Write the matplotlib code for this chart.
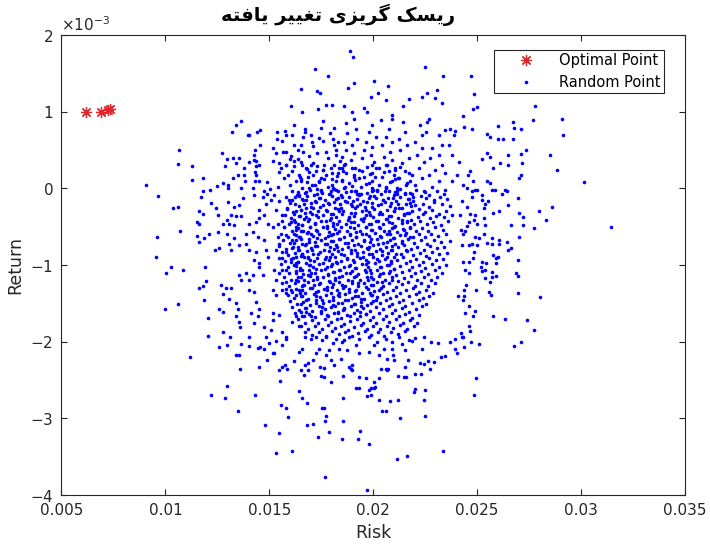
# -*- coding: utf-8 -*-
"""
Modified risk aversion: optimal portfolios vs. random portfolios (risk / return).
"""
import matplotlib.pyplot as plt
import numpy as np
from matplotlib.ticker import ScalarFormatter

plt.rcParams['font.family'] = ['DejaVu Sans']
plt.rcParams['axes.unicode_minus'] = False

# title: "ریسک گریزی تغییر یافته" written in presentation forms, visual order
# (matplotlib does no Arabic shaping by itself)
TITLE = ("\uFEEA\uFE98\uFED3\uFE8E\uFBFE \uFEAE\uFBFF\uFBFF\uFED0\uFE97 "
         "\uFBFC\uFEB0\uFBFE\uFEAE\uFB94 \uFB8F\uFEB4\uFBFE\uFEAD")

x_ticks = [0.005, 0.01, 0.015, 0.02, 0.025, 0.03, 0.035]
x_labels = ['0.005', '0.01', '0.015', '0.02', '0.025', '0.03', '0.035']
y_ticks = [-4, -3, -2, -1, 0, 1, 2]          # x 1e-3

# optimal points: risk, return (x 1e-3)
opt_risk = [0.00618, 0.00688, 0.00722, 0.00735]
opt_ret = [1.00, 1.00, 1.02, 1.03]

# random portfolios, (risk, return) both in units of 1e-5
rand_top = [
    (1719, 156), (1784, 147), (1650, 130), (1731, 127), (1745, 124), (1605, 108), (1657, 99),
    (1774, 109), (1800, 109), (1736, 103), (1364, 88), (1342, 82), (1320, 74), (1404, 70),
    (1398, 69), (1453, 76), (1439, 74), (1064, 50), (1062, 32), (1128, 29), (1128, 11),
    (1182, 13), (905, 4), (1179, -4), (1216, -2), (1246, 3), (1276, 7), (1302, 4), (1299, 1),
    (1273, 46), (1295, 38), (1324, 40), (1356, 40), (1338, 33), (1289, 29), (1324, 14),
    (1351, 17), (1378, 26), (1378, 18), (1381, 9), (1366, 1), (1401, 34), (1431, 50),
    (1428, 43), (1425, 37), (1436, 36), (1452, 30), (1436, 29), (1455, 57), (1431, 21),
    (1437, 17), (1429, 10), (1452, 9), (1422, 1), (1487, 8), (1503, -1), (1475, -4), (1487, -7),
    (1538, 74), (1538, 65), (1575, 75), (1582, 70), (1610, 70), (1617, 83), (1671, 77), (1674, 73),
    (1650, 57), (1664, 67), (1706, 60), (1708, 55), (1741, 66), (1749, 79), (1757, 88), (1812, 79),
    (1517, 52), (1531, 46), (1565, 48), (1579, 47), (1603, 42), (1637, 50), (1619, 36),
    (1517, 36), (1547, 33), (1555, 27), (1579, 30), (1600, 38), (1619, 29), (1640, 38), (1653, 34),
    (1547, 21), (1571, 13), (1611, 22), (1627, 9), (1644, 17), (1676, 26), (1684, 15), (1708, 33),
    (1724, 22), (1740, 9), (1764, 30), (1772, 17), (1796, 26), (1812, 57), (1820, 43), (1820, 9),
    (1692, 0), (1749, -2), (1796, -4), (1804, 65), (1772, 48),
    (1700, 70), (1760, 62), (1790, 72), (1830, 60), (1820, 50), (1840, 36), (1780, 40), (1730, 46),
    (1690, 42), (1660, 47), (1700, 30), (1760, 24), (1800, 12), (1830, 20), (1850, 26), (1680, 8),
    (1720, 4), (1780, 2), (1820, -2), (1650, 12), (1600, 5), (1580, 30), (1620, 56), (1560, 62),
    (1590, 17), (1640, -5), (1540, 2),
    (1888, 179), (1903, 171), (2250, 158), (2335, 146), (2470, 146), (2006, 140), (2073, 134),
    (1905, 137), (1878, 131), (2022, 124), (1990, 119), (2062, 115), (2142, 108), (2171, 116),
    (2233, 119), (2261, 124), (2305, 128), (2296, 118), (2331, 111), (2484, 123), (2497, 106),
    (2479, 103), (2433, 95), (2778, 108), (2770, 89), (1858, 107), (1896, 100), (1955, 105),
    (1970, 100), (2036, 89), (2092, 96), (2089, 91), (2142, 86), (2223, 83), (2266, 90), (2257, 86),
    (2253, 73), (2346, 76), (2371, 77), (2394, 75), (2436, 80), (2473, 77), (2548, 71), (2564, 67),
    (2602, 81), (2600, 65), (2622, 65), (2670, 86), (2678, 79), (2710, 78), (2670, 64), (2734, 50),
    (2710, 45), (2716, 33), (2546, 46), (2521, 38), (2564, 41), (2611, 33), (2574, 26), (2649, 44),
    (2649, 31), (2548, 10), (2564, 7), (2572, -2), (2636, -2), (2700, 13), (2709, 18), (2466, 22),
    (2458, 17), (2482, 10), (2490, -2), (2450, 0), (2434, 4),
    (2387, 70), (2363, 57), (2379, 43), (2411, 35), (2403, 17), (2379, 9), (2315, 70), (2331, 57),
    (2283, 52), (2315, 43), (2275, 39), (2331, 30), (2299, 24), (2347, 20), (2267, 17), (2315, 9),
    (2283, 2), (2347, -2), (2235, 70), (2203, 61), (2235, 52), (2211, 43), (2243, 35), (2219, 26),
    (2187, 17), (2235, 13), (2203, 4), (2243, -4), (2155, 74), (2123, 65), (2163, 57), (2131, 50),
    (2171, 39), (2139, 33), (2107, 26), (2155, 22), (2123, 13), (2163, 7), (2115, 0), (2155, -7),
    (2075, 78), (2059, 67), (2091, 61), (2043, 57), (2083, 48), (2051, 41), (2091, 37), (2059, 30),
    (2027, 26), (2075, 22), (2043, 15), (2091, 9), (2059, 2), (2019, -2), (2075, -4), (1995, 83),
    (1979, 74), (2011, 67), (1963, 61), (1995, 54), (1955, 50), (1987, 43), (1947, 39), (2003, 35),
    (1971, 28), (1931, 24), (1995, 20), (1955, 15), (1979, 7), (1939, 2), (1995, -4), (1923, -7),
    (1907, 91), (1868, 85), (1915, 78), (1876, 72), (1923, 65), (1859, 61), (1899, 57), (1868, 50),
    (1907, 46), (1851, 41), (1891, 37), (1859, 30), (1899, 26), (1868, 20), (1907, 15), (1851, 11),
    (1883, 7), (1859, 0), (1891, -4),
    (2909, 90), (2912, 69), (2850, 43), (2885, 24), (3015, 8), (2862, -24), (2799, -30),
    (2833, -41), (3143, -51),
]

rand_left = [
    (964, -10), (1036, -26), (1060, -24), (1069, -56), (960, -64), (953, -89), (1026, -103),
    (1004, -110), (1086, -107), (996, -157), (1060, -151), (1189, -103), (1161, -130), (1183, -127),
    (1196, -121), (1188, -146), (1207, -169), (1204, -192), (1276, -188), (1311, -194), (1268, -126),
    (1292, -130), (1316, -130), (1276, -138), (1305, -144), (1260, -157), (1276, -161), (1340, -150),
    (1348, -157), (1340, -167), (1356, -174), (1359, -181), (1404, -194), (1353, -113), (1364, -119),
    (1388, -111), (1404, -120), (1420, -113), (1452, -102), (1468, -113), (1404, -133), (1428, -135),
    (1436, -148), (1452, -157), (1412, -163), (1444, -167), (1428, -175), (1476, -181), (1508, -185),
    (1484, -194), (1516, -163), (1547, -165), (1516, -172), (1579, -194), (1563, -187), (1611, -174),
    (1627, -167), (1651, -161), (1644, -180), (1667, -167), (1516, -133), (1532, -139), (1563, -133),
    (1579, -137), (1603, -133), (1627, -139), (1659, -133), (1524, -107), (1547, -111), (1579, -107),
    (1603, -96), (1627, -98), (1659, -107), (1684, -113), (1532, -120), (1579, -122), (1627, -120),
    (1667, -126),
    (1164, -29), (1180, -33), (1151, -44), (1164, -47), (1151, -62), (1161, -70), (1188, -65),
    (1172, -11), (1220, -19), (1244, -26), (1252, -35), (1276, -46), (1295, -41), (1212, -59),
    (1252, -57), (1295, -59), (1241, -80), (1260, -78), (1308, -72), (1316, -80), (1332, -65),
    (1356, -74), (1300, -18), (1332, -24), (1316, -35), (1340, -36), (1364, -36), (1308, -47),
    (1332, -48), (1356, -22), (1372, -13), (1388, -59), (1420, -57), (1388, -72), (1404, -80),
    (1436, -44), (1404, -46), (1428, -9), (1468, -11), (1484, -20), (1452, -28), (1476, -35),
    (1452, -39), (1492, -46), (1516, -50), (1444, -63), (1476, -67), (1436, -83), (1428, -94),
    (1452, -98), (1484, -80), (1492, -89), (1532, -80), (1547, -72), (1579, -83), (1563, -91),
    (1508, -15), (1524, -9), (1547, -17), (1579, -11), (1611, -15), (1644, -9), (1676, -15),
    (1532, -28), (1563, -35), (1587, -26), (1619, -33), (1651, -28), (1676, -37), (1540, -46),
    (1571, -50), (1603, -44), (1627, -54), (1659, -48), (1684, -57), (1540, -63), (1579, -61),
    (1611, -67), (1644, -63), (1676, -72), (1611, -78), (1659, -85), (1627, -89), (1684, -91),
    (1692, -100),
]

rand_right = [
    (2775, -52), (2698, -12), (2650, -22), (2603, -30), (2576, -32), (2700, -32), (2722, -37),
    (2662, -48), (2722, -48), (2700, -64), (2642, -70), (2649, -80), (2662, -78), (2607, -67),
    (2571, -65), (2571, -72), (2604, -73), (2696, -94), (2686, -111), (2698, -114), (2697, -137),
    (2804, -142), (2740, -172), (2772, -185), (2636, -171), (2577, -167), (2566, -139), (2555, -135),
    (2589, -114), (2571, -116), (2539, -117), (2560, -122), (2571, -109), (2539, -107), (2523, -108),
    (2518, -102), (2544, -97), (2523, -96), (2589, -97), (2591, -91), (2576, -87), (2598, -90),
    (2496, -132), (2478, -167), (2443, -163), (2491, -160), (2459, -154), (2467, -186), (2434, -194),
    (2423, -189), (2439, -141), (2434, -146), (2410, -141), (2447, -126), (2439, -132), (2478, -91),
    (2483, -83), (2459, -96), (2434, -96), (2443, -106), (2459, -111), (2427, -74), (2459, -74),
    (2475, -72), (2499, -74), (2507, -65), (2491, -63), (2531, -59), (2547, -71), (2423, -54),
    (2443, -55), (2451, -49), (2434, -59), (2467, -33), (2491, -35), (2483, -41), (2459, -44),
    (2499, -46), (2531, -39), (2539, -48), (2531, -26), (2539, -20), (2523, -15), (2552, -17),
    (2475, -4), (2499, -2), (2475, -11), (2427, -17), (2451, -24), (2419, -35), (2619, -7),
    (2642, -4), (2587, -2), (2523, -9), (2459, -180),
]

rand_bottom = [
    (1116, -220), (1220, -269), (1288, -274), (1294, -258), (1350, -290), (1433, -269), (1480, -309),
    (1547, -319), (1533, -345), (1609, -343), (1770, -377), (1970, -393), (1556, -283), (1579, -286),
    (1592, -298), (1551, -251), (1644, -264), (1655, -273), (1679, -280), (1681, -309), (1711, -308),
    (1734, -324), (1755, -286), (1763, -287), (1774, -297), (1768, -304), (1785, -318), (1853, -273),
    (1853, -304), (1851, -327), (1935, -316), (1928, -327), (1978, -334), (1971, -271), (1987, -269),
    (2003, -261), (2008, -259), (2030, -276), (2043, -291), (2061, -290), (1919, -260), (1931, -260),
    (1547, -237), (1563, -233), (1587, -236), (1576, -230), (1667, -244), (1684, -237), (1748, -245),
    (1763, -246), (1796, -252), (1855, -245), (1891, -235), (1899, -237), (1931, -246), (1963, -247),
    (1979, -263), (1987, -260), (2006, -252), (2027, -248), (2067, -237), (2036, -235), (2059, -235),
    (1651, -237), (1672, -231), (1743, -233), (1764, -234), (1796, -224), (1812, -230), (1844, -223),
    (1883, -233), (1899, -231), (1450, -233), (1489, -224), (1359, -236), (1340, -218), (1356, -217),
    (1295, -204), (1260, -207), (1364, -203), (1404, -206), (1444, -208), (1455, -207), (1476, -210),
    (1516, -215), (1524, -215), (1579, -196), (1532, -199), (1500, -202), (1563, -204), (1619, -225),
    (1644, -213), (1659, -209), (1684, -228), (1708, -224), (1724, -215), (1740, -209), (1772, -217),
    (1788, -211), (1804, -202), (1836, -209), (1851, -200), (1875, -211), (1915, -204), (1931, -215),
    (1979, -213), (2003, -204), (2027, -217), (2051, -209), (2067, -222), (1672, -194), (1700, -196),
    (1724, -194), (1753, -198), (1772, -194), (1820, -196), (1860, -198), (1883, -194), (1931, -197),
    (1979, -194), (2019, -200), (2059, -196),
    (2709, -200), (2678, -205), (2507, -203), (2470, -201), (2492, -247), (2483, -270), (2335, -343),
    (2160, -349), (2112, -353), (2248, -297), (2128, -300), (2245, -276), (2117, -276), (2083, -278),
    (2251, -263), (2203, -262), (2198, -265), (2118, -245), (2146, -246), (2158, -246), (2200, -242),
    (2230, -242), (2272, -235), (2291, -226), (2264, -225), (2224, -228), (2245, -229), (2155, -233),
    (2155, -211), (2167, -224), (2235, -209), (2326, -220), (2347, -219), (2394, -209), (2403, -215),
    (2439, -207), (2368, -201), (2276, -200), (2312, -202), (2187, -199), (2136, -203), (2088, -201),
    (2096, -217), (2101, -224), (2088, -209), (2072, -235), (2427, -194), (2394, -196), (2243, -194),
    (2203, -195), (2171, -198), (2123, -194),
]

rand_core = [
    (1608, -3), (1633, -9), (1671, -6), (1694, -2), (1731, -8), (1749, -4), (1788, -7), (1812, -1),
    (1846, -9), (1871, -5), (1915, -3), (1932, -8), (1970, -6), (1997, -2), (2036, -7), (2055, -4),
    (2098, -9), (2113, -3), (2152, -6), (2188, -8), (2207, -2), (2249, -5), (2266, -9), (2308, -4),
    (2341, -7),
    (1594, -15), (1622, -11), (1658, -14), (1679, -10), (1718, -16), (1741, -12), (1769, -15),
    (1803, -10), (1829, -13), (1862, -17), (1884, -11), (1923, -14), (1951, -16), (1982, -10),
    (2011, -13), (2049, -15), (2071, -12), (2109, -17), (2131, -11), (2170, -14), (2193, -16),
    (2229, -10), (2254, -13), (2291, -15), (2322, -11), (2357, -14),
    (1601, -19), (1641, -23), (1665, -20), (1699, -24), (1726, -18), (1757, -22), (1781, -19),
    (1817, -25), (1840, -21), (1876, -18), (1900, -23), (1937, -20), (1959, -24), (1996, -19),
    (2022, -22), (2058, -18), (2082, -23), (2118, -21), (2139, -25), (2178, -19), (2201, -22),
    (2238, -20), (2268, -24), (2293, -18), (2330, -21), (2370, -23),
    (1583, -27), (1615, -31), (1651, -28), (1674, -32), (1711, -26), (1735, -30), (1772, -28),
    (1795, -33), (1831, -27), (1855, -30), (1891, -32), (1914, -26), (1946, -29), (1979, -31),
    (2006, -27), (2041, -33), (2067, -28), (2101, -30), (2124, -26), (2162, -32), (2186, -29),
    (2222, -27), (2248, -31), (2284, -28), (2315, -33), (2349, -30),
    (1577, -35), (1606, -39), (1644, -36), (1667, -40), (1703, -34), (1733, -38), (1760, -35),
    (1792, -41), (1822, -37), (1849, -34), (1882, -39), (1905, -36), (1941, -40), (1966, -35),
    (2000, -38), (2029, -34), (2063, -40), (2087, -36), (2121, -39), (2148, -35), (2180, -41),
    (2213, -37), (2240, -34), (2273, -39), (2301, -36), (2339, -38), (2378, -35),
    (1562, -43), (1597, -47), (1625, -44), (1659, -48), (1684, -42), (1719, -46), (1747, -43),
    (1777, -49), (1808, -45), (1836, -42), (1868, -47), (1893, -44), (1929, -48), (1953, -43),
    (1988, -46), (2015, -42), (2047, -47), (2076, -44), (2105, -49), (2136, -45), (2164, -42),
    (2198, -47), (2227, -43), (2258, -46), (2289, -44), (2324, -48), (2362, -42),
    (1571, -51), (1609, -55), (1636, -52), (1663, -56), (1698, -50), (1725, -54), (1756, -51),
    (1786, -57), (1815, -53), (1844, -50), (1873, -55), (1907, -52), (1934, -56), (1963, -51),
    (1994, -54), (2026, -50), (2054, -55), (2089, -52), (2116, -57), (2145, -53), (2177, -50),
    (2205, -55), (2236, -52), (2264, -56), (2298, -51), (2335, -54),
    (1556, -59), (1588, -63), (1620, -60), (1649, -64), (1679, -58), (1709, -62), (1740, -59),
    (1768, -65), (1799, -61), (1826, -58), (1859, -63), (1887, -60), (1918, -64), (1947, -59),
    (1978, -62), (2007, -58), (2039, -63), (2068, -60), (2097, -65), (2128, -61), (2157, -58),
    (2189, -63), (2218, -60), (2250, -64), (2279, -59), (2312, -62), (2348, -60),
    (1565, -67), (1598, -71), (1629, -68), (1656, -72), (1690, -66), (1718, -70), (1750, -67),
    (1779, -73), (1806, -69), (1838, -66), (1866, -71), (1897, -68), (1925, -72), (1957, -67),
    (1985, -70), (2018, -66), (2046, -71), (2079, -68), (2107, -73), (2138, -69), (2169, -66),
    (2196, -71), (2230, -68), (2259, -72), (2290, -67), (2327, -70), (2371, -69),
    (1548, -75), (1581, -79), (1612, -76), (1642, -80), (1671, -74), (1702, -78), (1731, -75),
    (1763, -81), (1790, -77), (1821, -74), (1851, -79), (1880, -76), (1911, -80), (1940, -75),
    (1971, -78), (2001, -74), (2032, -79), (2061, -76), (2091, -81), (2121, -77), (2150, -74),
    (2182, -79), (2211, -76), (2243, -80), (2272, -75), (2305, -78), (2339, -76),
    (1559, -83), (1591, -87), (1623, -84), (1652, -88), (1683, -82), (1712, -86), (1744, -83),
    (1772, -89), (1801, -85), (1832, -82), (1861, -87), (1892, -84), (1921, -88), (1952, -83),
    (1981, -86), (2013, -82), (2042, -87), (2072, -84), (2102, -89), (2133, -85), (2161, -82),
    (2192, -87), (2224, -84), (2253, -88), (2284, -83), (2318, -86), (2356, -84),
    (1545, -91), (1577, -95), (1606, -92), (1637, -96), (1667, -90), (1696, -94), (1728, -91),
    (1757, -97), (1786, -93), (1816, -90), (1846, -95), (1876, -92), (1905, -96), (1936, -91),
    (1965, -94), (1997, -90), (2026, -95), (2056, -92), (2086, -97), (2116, -93), (2145, -90),
    (2177, -95), (2206, -92), (2238, -96), (2267, -91), (2300, -94), (2335, -92),
    (1555, -99), (1590, -103), (1618, -100), (1649, -104), (1678, -98), (1708, -102), (1739, -99),
    (1769, -105), (1797, -101), (1828, -98), (1857, -103), (1888, -100), (1917, -104), (1948, -99),
    (1977, -102), (2008, -98), (2038, -103), (2068, -100), (2098, -105), (2128, -101), (2157, -98),
    (2188, -103), (2219, -100), (2250, -104), (2281, -99), (2316, -102), (2350, -100),
    (1563, -107), (1597, -111), (1627, -108), (1660, -112), (1689, -106), (1720, -110), (1750, -107),
    (1780, -113), (1810, -109), (1839, -106), (1869, -111), (1899, -108), (1929, -112), (1959, -107),
    (1989, -110), (2020, -106), (2049, -111), (2080, -108), (2110, -113), (2140, -109), (2170, -106),
    (2200, -111), (2231, -108), (2262, -112), (2296, -107), (2331, -110),
    (1572, -115), (1604, -119), (1636, -116), (1666, -120), (1697, -114), (1727, -118), (1758, -115),
    (1788, -121), (1817, -117), (1848, -114), (1877, -119), (1908, -116), (1938, -120), (1968, -115),
    (1998, -118), (2029, -114), (2058, -119), (2090, -116), (2119, -121), (2150, -117), (2181, -114),
    (2212, -119), (2243, -116), (2276, -120), (2309, -115),
    (1560, -123), (1593, -127), (1624, -124), (1655, -128), (1686, -122), (1716, -126), (1746, -123),
    (1777, -129), (1806, -125), (1836, -122), (1866, -127), (1896, -124), (1926, -128), (1957, -123),
    (1987, -126), (2017, -122), (2047, -127), (2078, -124), (2108, -129), (2139, -125), (2169, -122),
    (2199, -127), (2231, -124), (2265, -128), (2298, -123),
    (1578, -131), (1611, -135), (1643, -132), (1673, -136), (1704, -130), (1735, -134), (1765, -131),
    (1795, -137), (1826, -133), (1855, -130), (1885, -135), (1916, -132), (1946, -136), (1976, -131),
    (2006, -134), (2037, -130), (2067, -135), (2097, -132), (2128, -137), (2159, -133), (2190, -130),
    (2222, -135), (2254, -132), (2286, -136),
    (1588, -139), (1621, -143), (1652, -140), (1684, -144), (1714, -138), (1745, -142), (1775, -139),
    (1806, -145), (1836, -141), (1866, -138), (1896, -143), (1927, -140), (1957, -144), (1988, -139),
    (2018, -142), (2049, -138), (2080, -143), (2110, -140), (2141, -145), (2172, -141), (2204, -138),
    (2237, -143), (2270, -140),
    (1599, -147), (1633, -151), (1664, -148), (1695, -152), (1726, -146), (1757, -150), (1787, -147),
    (1818, -153), (1848, -149), (1878, -146), (1909, -151), (1939, -148), (1970, -152), (2000, -147),
    (2031, -150), (2062, -146), (2092, -151), (2124, -148), (2155, -153), (2187, -149), (2219, -146),
    (2252, -151),
    (1610, -155), (1645, -159), (1676, -156), (1707, -160), (1738, -154), (1769, -158), (1799, -155),
    (1830, -161), (1861, -157), (1891, -154), (1922, -159), (1952, -156), (1983, -160), (2014, -155),
    (2045, -158), (2076, -154), (2107, -159), (2139, -156), (2171, -161), (2204, -157), (2236, -154),
    (1622, -163), (1657, -167), (1689, -164), (1720, -168), (1751, -162), (1782, -166), (1812, -163),
    (1843, -169), (1874, -165), (1905, -162), (1936, -167), (1966, -164), (1997, -168), (2028, -163),
    (2060, -166), (2091, -162), (2123, -167), (2155, -164), (2188, -169), (2221, -165),
    (1636, -171), (1671, -175), (1703, -172), (1735, -176), (1766, -170), (1797, -174), (1828, -171),
    (1859, -177), (1890, -173), (1921, -170), (1952, -175), (1983, -172), (2014, -176), (2045, -171),
    (2077, -174), (2109, -170), (2141, -175), (2175, -172), (2209, -176),
    (1651, -179), (1688, -183), (1721, -180), (1753, -184), (1784, -178), (1815, -182), (1846, -179),
    (1877, -185), (1908, -181), (1939, -178), (1970, -183), (2001, -180), (2033, -184), (2064, -179),
    (2096, -182), (2129, -178), (2163, -183), (2197, -180),
    (1670, -187), (1706, -191), (1739, -188), (1771, -192), (1803, -186), (1834, -190), (1865, -187),
    (1897, -193), (1928, -189), (1959, -186), (1991, -191), (2022, -188), (2054, -192), (2086, -187),
    (2119, -190), (2153, -186),
]

# extra points in the most crowded middle of the cloud
rand_dense = [
    (1659, 31), (1679, 25), (1730, 29), (1756, 24), (1811, 30), (1834, 26), (1866, 32), (1914, 27),
    (1944, 23), (1995, 30), (2015, 26), (2064, 31), (2105, 24), (2129, 28),
    (1646, 15), (1691, 21), (1708, 17), (1749, 14), (1800, 20), (1826, 16), (1853, 22), (1908, 18),
    (1933, 13), (1984, 19), (2008, 15), (2050, 21), (2098, 17), (2117, 14), (2170, 20),
    (1653, 10), (1705, 4), (1738, 8), (1765, 12), (1802, 5), (1848, 9), (1897, 3), (1914, 11),
    (1966, 6), (1992, 10), (2029, 4), (2080, 8), (2103, 12), (2158, 5), (2177, 9),
    (1655, 1), (1676, -5), (1729, -1), (1754, -6), (1807, 0), (1832, -4), (1864, 2), (1914, -3),
    (1942, -7), (1992, 0), (2016, -4), (2061, 1), (2105, -5), (2129, -1), (2178, -6),
    (1645, -10), (1664, -15), (1714, -9), (1743, -13), (1794, -8), (1821, -14), (1851, -11),
    (1902, -16), (1930, -9), (1981, -13), (2003, -10), (2048, -15), (2093, -12), (2115, -8),
    (2165, -14), (2189, -11),
    (1622, -20), (1677, -25), (1699, -19), (1746, -24), (1786, -21), (1813, -18), (1843, -25),
    (1893, -20), (1923, -23), (1972, -18), (1995, -24), (2039, -21), (2085, -19), (2107, -25),
    (2156, -20), (2180, -23),
    (1627, -30), (1647, -36), (1697, -31), (1726, -35), (1777, -29), (1804, -34), (1834, -30),
    (1885, -37), (1914, -32), (1964, -28), (1986, -35), (2031, -31), (2076, -36), (2098, -29),
    (2147, -34), (2171, -32),
    (1620, -41), (1640, -46), (1690, -40), (1718, -45), (1771, -42), (1795, -39), (1828, -46),
    (1877, -41), (1906, -44), (1956, -39), (1979, -46), (2023, -42), (2068, -40), (2091, -45),
    (2140, -41), (2164, -44),
    (1628, -51), (1650, -55), (1698, -50), (1728, -56), (1779, -52), (1806, -49), (1836, -55),
    (1887, -51), (1915, -57), (1966, -50), (1988, -54), (2033, -52), (2078, -56), (2101, -50),
    (2150, -54), (2175, -52),
    (1630, -61), (1651, -66), (1700, -60), (1729, -65), (1781, -62), (1806, -59), (1837, -66),
    (1888, -61), (1916, -64), (1967, -59), (1989, -66), (2034, -62), (2079, -60), (2102, -65),
    (2151, -61), (2175, -64),
    (1619, -71), (1640, -76), (1689, -70), (1718, -75), (1770, -72), (1795, -69), (1827, -76),
    (1877, -71), (1905, -74), (1956, -69), (1978, -76), (2023, -72), (2068, -70), (2091, -75),
    (2140, -71),
    (1637, -81), (1658, -86), (1707, -80), (1736, -85), (1788, -82), (1813, -79), (1845, -86),
    (1895, -81), (1923, -84), (1974, -79), (1996, -86), (2041, -82), (2086, -80), (2109, -85),
    (2158, -81),
    (1615, -91), (1636, -96), (1685, -90), (1714, -95), (1766, -92), (1791, -89), (1823, -96),
    (1873, -91), (1901, -94), (1952, -89), (1974, -96), (2019, -92), (2064, -90), (2087, -95),
    (1627, -101), (1648, -106), (1697, -100), (1726, -105), (1778, -102), (1803, -99), (1835, -106),
    (1885, -101), (1913, -104), (1964, -99), (1986, -106), (2031, -102), (2076, -100), (2099, -105),
    (1629, -111), (1650, -116), (1699, -110), (1728, -115), (1780, -112), (1805, -109), (1837, -116),
    (1887, -111), (1915, -114), (1966, -109), (1988, -116), (2033, -112), (2078, -110),
    (1640, -121), (1661, -126), (1710, -120), (1739, -125), (1791, -122), (1816, -119), (1848, -126),
    (1898, -121), (1926, -124), (1977, -119), (1999, -126), (2044, -122), (2089, -120),
    (1626, -131), (1647, -136), (1696, -130), (1725, -135), (1777, -132), (1802, -129), (1834, -136),
    (1884, -131), (1912, -134), (1963, -129), (1985, -136), (2030, -132),
    (1656, -141), (1677, -146), (1726, -140), (1755, -145), (1807, -142), (1832, -139), (1864, -146),
    (1914, -141), (1942, -144), (1993, -139), (2015, -146),
    (1653, -151), (1674, -156), (1723, -150), (1752, -155), (1804, -152), (1829, -149), (1861, -156),
    (1911, -151), (1939, -154), (1990, -149),
    (1678, -161), (1699, -166), (1748, -160), (1777, -165), (1829, -162), (1854, -159), (1886, -166),
    (1936, -161), (1964, -164),
]


def main():
    pts = np.array(rand_top + rand_left + rand_right + rand_bottom + rand_core + rand_dense,
                   dtype=float) * 1e-5

    fig = plt.figure(figsize=(7.1, 5.48), dpi=100)
    ax = fig.add_axes([0.0866, 0.0967, 0.8782, 0.8394])

    h_rand, = ax.plot(pts[:, 0], pts[:, 1], ls='none', marker='o', ms=2.6, mew=0,
                      color='#0000ff', label='Random Point')
    h_opt, = ax.plot(opt_risk, np.array(opt_ret) * 1e-3, ls='none', marker=(8, 2, 0), ms=8,
                     mew=0.9, color='#e0262a', label='Optimal Point')

    ax.set_xlim(0.005, 0.035)
    ax.set_ylim(-4e-3, 2e-3)
    ax.set_xticks(x_ticks)
    ax.set_xticklabels(x_labels)
    ax.set_yticks(np.array(y_ticks) * 1e-3)
    fmt = ScalarFormatter(useMathText=True)
    fmt.set_powerlimits((0, 0))
    ax.yaxis.set_major_formatter(fmt)

    ax.tick_params(direction='in', top=True, right=True, length=4, width=0.8,
                   colors='#262626', labelsize=11, pad=6)
    ax.yaxis.get_offset_text().set_fontsize(11)
    for s in ax.spines.values():
        s.set_color('#262626')
        s.set_linewidth(0.8)

    ax.set_xlabel('Risk', fontsize=12.5, color='#262626', labelpad=4)
    ax.set_ylabel('Return', fontsize=12.5, color='#262626', labelpad=4)

    # title right at the top edge, above the plot box
    fig.text(0.476, 0.961, TITLE, ha='center', va='baseline', fontsize=14,
             fontweight='bold', family=['DejaVu Sans'])

    leg = ax.legend(handles=[h_opt, h_rand], loc='upper right', bbox_to_anchor=(0.966, 0.967),
                    borderaxespad=0, fancybox=False, framealpha=1, edgecolor='#262626',
                    fontsize=10.5, handlelength=4.0, handletextpad=0.3, borderpad=0.2,
                    labelspacing=0.5)
    leg.get_frame().set_linewidth(0.8)

    fig.savefig('out.png', dpi=100)
    plt.close(fig)


if __name__ == '__main__':
    main()
